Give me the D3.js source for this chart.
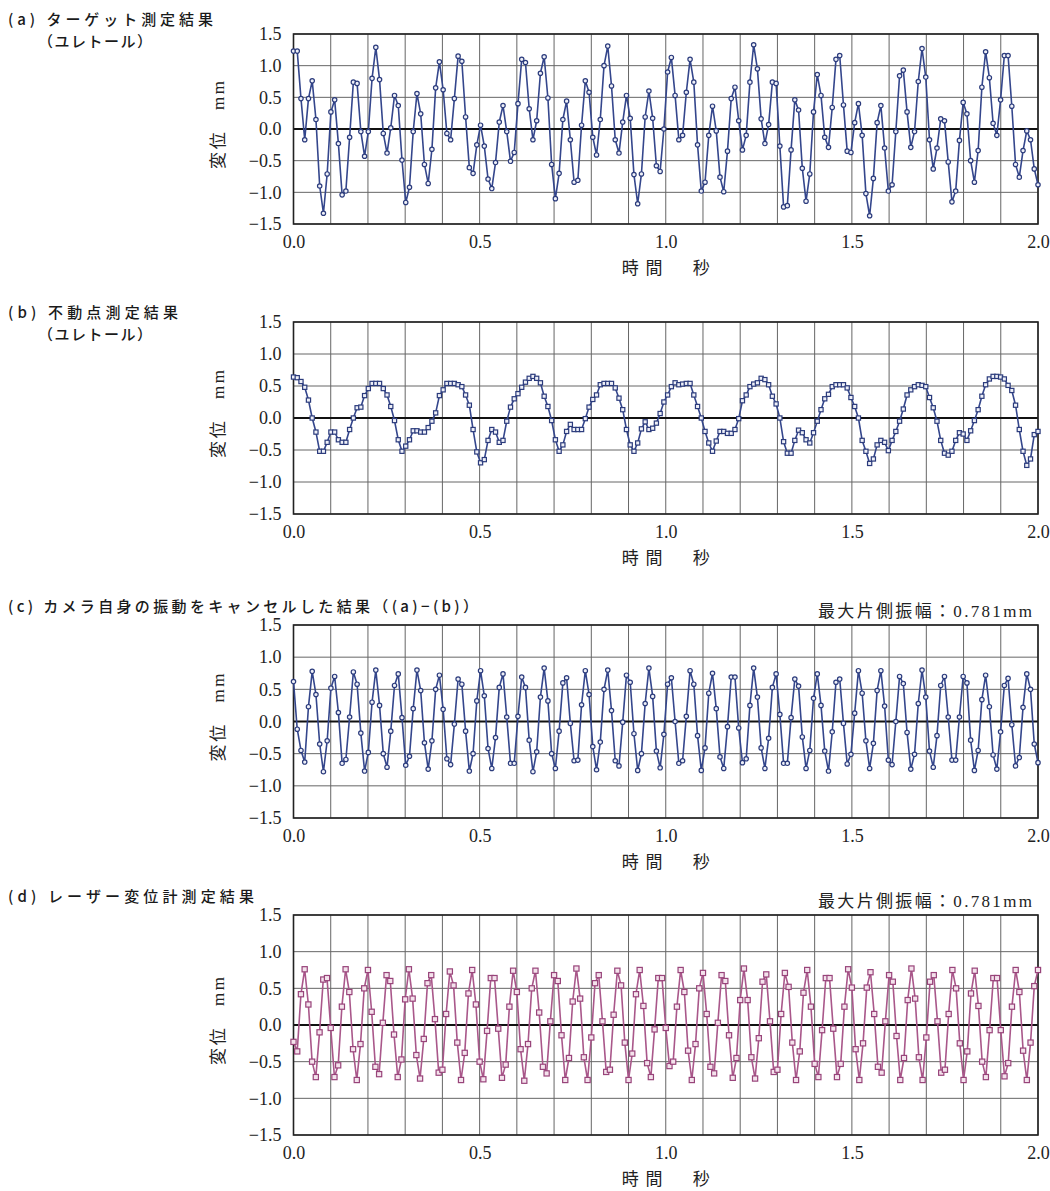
<!DOCTYPE html>
<html><head><meta charset="utf-8">
<script src="https://cdn.jsdelivr.net/npm/d3@7"></script>
<style>body{margin:0;background:#fff}</style>
</head><body><svg id="chart" width="1050" height="1191"></svg>
<script>
// ---------- data ----------
const timeSpan = [0.0, 2.0];          // seconds
const yTickValues = [1.5, 1.0, 0.5, 0.0, -0.5, -1.0, -1.5];
const xTickValues = [0.0, 0.5, 1.0, 1.5, 2.0];
const xTitle = "時間　秒";
const yTitle = "変位　mm";
const ampNote = "最大片側振幅：0.781mm";

const titlesA = ["(a) ターゲット測定結果", "（ユレトール）"];
const titlesB = ["(b) 不動点測定結果", "（ユレトール）"];
const titlesC = ["(c) カメラ自身の振動をキャンセルした結果（(a)−(b)）"];
const titlesD = ["(d) レーザー変位計測定結果"];

// (a) target measurement (mm), equally spaced samples over 0–2.0 s
const seriesA = [
1.23,1.23,0.48,-0.17,0.48,0.76,0.15,-0.9,-1.33,-0.71,
0.27,0.46,-0.23,-1.04,-0.98,-0.13,0.74,0.72,-0.04,-0.43,
-0.04,0.8,1.29,0.78,-0.07,-0.38,0.02,0.53,0.37,-0.49,
-1.16,-0.92,-0.04,0.56,0.24,-0.56,-0.86,-0.32,0.65,1.06,
0.62,-0.07,-0.17,0.48,1.15,1.07,0.19,-0.61,-0.7,-0.25,
0.06,-0.27,-0.79,-0.94,-0.53,0.11,0.37,-0.04,-0.51,-0.37,
0.4,1.1,1.05,0.32,-0.17,0.13,0.88,1.14,0.49,-0.56,
-1.1,-0.7,0.15,0.44,-0.17,-0.84,-0.81,0.06,0.76,0.58,
-0.13,-0.41,0.15,1.0,1.31,0.68,-0.17,-0.38,0.11,0.53,
0.17,-0.72,-1.18,-0.71,0.19,0.6,0.17,-0.58,-0.67,0.0,
0.9,1.13,0.53,-0.17,-0.1,0.58,1.1,0.74,-0.25,-0.98,
-0.84,-0.1,0.36,-0.03,-0.76,-0.99,-0.35,0.48,0.66,0.13,
-0.33,-0.1,0.74,1.33,0.95,0.16,-0.23,0.07,0.74,0.72,
-0.27,-1.23,-1.21,-0.33,0.46,0.3,-0.62,-1.14,-0.71,0.27,
0.86,0.53,-0.13,-0.29,0.34,1.1,1.16,0.38,-0.35,-0.37,
0.1,0.4,-0.1,-1.02,-1.37,-0.78,0.1,0.37,-0.3,-0.98,
-0.88,-0.04,0.84,0.93,0.27,-0.29,-0.04,0.75,1.27,0.82,
-0.17,-0.63,-0.3,0.16,0.13,-0.52,-1.15,-0.98,-0.18,0.42,
0.24,-0.5,-0.84,-0.34,0.66,1.22,0.81,0.09,-0.1,0.46,
1.16,1.16,0.36,-0.56,-0.76,-0.34,-0.03,-0.17,-0.63,-0.88];

// (b) fixed point measurement (mm)
const seriesB = [
0.64,0.63,0.57,0.48,0.28,0.0,-0.22,-0.52,-0.52,-0.38,
-0.22,-0.22,-0.34,-0.38,-0.38,-0.18,0,0.16,0.17,0.35,
0.46,0.54,0.54,0.54,0.46,0.36,0.18,-0.04,-0.34,-0.52,
-0.44,-0.34,-0.2,-0.2,-0.22,-0.22,-0.15,-0.05,0.08,0.35,
0.44,0.54,0.54,0.54,0.52,0.49,0.36,0.2,-0.18,-0.53,
-0.7,-0.65,-0.35,-0.18,-0.22,-0.38,-0.35,-0.05,0.17,0.3,
0.38,0.48,0.56,0.62,0.65,0.62,0.55,0.34,0.18,-0.04,
-0.34,-0.52,-0.42,-0.21,-0.1,-0.18,-0.18,-0.18,-0.01,0.17,
0.29,0.36,0.52,0.54,0.54,0.54,0.47,0.31,0.13,-0.18,
-0.42,-0.52,-0.39,-0.17,-0.06,-0.18,-0.16,-0.08,0.07,0.25,
0.36,0.49,0.55,0.52,0.53,0.54,0.54,0.36,0.18,0,
-0.21,-0.39,-0.52,-0.36,-0.21,-0.21,-0.24,-0.24,-0.18,-0.01,
0.27,0.36,0.49,0.53,0.55,0.62,0.6,0.52,0.34,0.22,
0,-0.37,-0.55,-0.55,-0.35,-0.19,-0.23,-0.34,-0.39,-0.23,
-0.05,0.13,0.3,0.37,0.49,0.52,0.52,0.52,0.47,0.32,
0.18,0,-0.35,-0.52,-0.71,-0.64,-0.42,-0.35,-0.38,-0.51,
-0.35,-0.21,-0.05,0.14,0.36,0.44,0.49,0.52,0.51,0.49,
0.32,0.16,-0.05,-0.35,-0.55,-0.58,-0.52,-0.35,-0.23,-0.25,
-0.35,-0.2,-0.04,0.13,0.34,0.52,0.61,0.65,0.65,0.64,
0.61,0.51,0.43,0.2,-0.18,-0.52,-0.74,-0.64,-0.26,-0.21];

// (c) camera vibration cancelled (mm)
const seriesC = [
0.62,-0.12,-0.45,-0.63,0.23,0.78,0.42,-0.35,-0.78,-0.3,
0.52,0.7,0.14,-0.65,-0.59,0.07,0.77,0.58,-0.18,-0.77,
-0.48,0.3,0.8,0.25,-0.5,-0.71,-0.15,0.56,0.74,0.06,
-0.68,-0.54,0.2,0.8,0.48,-0.33,-0.74,-0.3,0.5,0.72,
0.19,-0.58,-0.67,-0.04,0.66,0.58,-0.15,-0.77,-0.5,0.32,
0.79,0.4,-0.42,-0.73,-0.25,0.53,0.74,0.07,-0.65,-0.65,
0.08,0.69,0.53,-0.29,-0.78,-0.47,0.38,0.83,0.32,-0.5,
-0.73,-0.15,0.6,0.68,-0.03,-0.61,-0.6,0.26,0.79,0.42,
-0.39,-0.75,-0.32,0.5,0.8,0.17,-0.61,-0.69,-0.01,0.72,
0.61,-0.19,-0.76,-0.5,0.28,0.83,0.39,-0.46,-0.72,-0.2,
0.58,0.68,0,-0.65,-0.61,0.08,0.79,0.58,-0.22,-0.76,
-0.41,0.44,0.75,0.2,-0.55,-0.73,-0.08,0.69,0.69,-0.1,
-0.64,-0.58,0.25,0.83,0.38,-0.41,-0.73,-0.26,0.53,0.74,
0.11,-0.65,-0.65,0.06,0.66,0.55,-0.24,-0.73,-0.45,0.36,
0.74,0.25,-0.46,-0.77,-0.16,0.61,0.66,-0.03,-0.66,-0.51,
0.13,0.79,0.44,-0.3,-0.73,-0.34,0.48,0.79,0.24,-0.6,
-0.67,0,0.7,0.59,-0.17,-0.74,-0.51,0.28,0.8,0.38,
-0.46,-0.71,-0.22,0.56,0.7,0.07,-0.6,-0.6,0.07,0.7,
0.6,-0.29,-0.76,-0.45,0.34,0.72,0.23,-0.52,-0.74,-0.16,
0.56,0.67,-0.05,-0.69,-0.56,0.22,0.74,0.5,-0.35,-0.64];

// (d) laser displacement meter (mm)
const seriesD = [
-0.23,-0.36,0.42,0.76,0.28,-0.5,-0.71,-0.1,0.62,0.64,
-0.04,-0.71,-0.55,0.25,0.76,0.45,-0.33,-0.75,-0.26,0.5,
0.75,0.18,-0.57,-0.67,0.03,0.68,0.6,-0.13,-0.71,-0.47,
0.35,0.76,0.36,-0.41,-0.73,-0.19,0.57,0.68,0.08,-0.65,
-0.61,0.15,0.73,0.54,-0.24,-0.75,-0.38,0.43,0.75,0.28,
-0.5,-0.74,-0.08,0.64,0.64,-0.05,-0.72,-0.54,0.25,0.74,
0.45,-0.33,-0.76,-0.26,0.5,0.74,0.17,-0.57,-0.66,0.05,
0.68,0.6,-0.14,-0.75,-0.45,0.32,0.77,0.36,-0.44,-0.75,
-0.17,0.57,0.68,0.05,-0.64,-0.61,0.14,0.74,0.54,-0.24,
-0.75,-0.39,0.42,0.75,0.26,-0.52,-0.71,-0.06,0.64,0.64,
-0.04,-0.56,-0.5,0.25,0.75,0.45,-0.35,-0.75,-0.26,0.5,
0.71,0.15,-0.57,-0.66,0.03,0.68,0.6,-0.14,-0.72,-0.45,
0.34,0.77,0.34,-0.44,-0.73,-0.18,0.59,0.69,0.05,-0.64,
-0.61,0.15,0.71,0.52,-0.24,-0.75,-0.36,0.44,0.75,0.25,
-0.53,-0.71,-0.07,0.64,0.64,-0.05,-0.71,-0.53,0.25,0.76,
0.51,-0.33,-0.75,-0.25,0.51,0.72,0.15,-0.57,-0.65,0.05,
0.68,0.59,-0.15,-0.75,-0.45,0.34,0.77,0.36,-0.44,-0.75,
-0.17,0.59,0.68,0.05,-0.65,-0.61,0.15,0.75,0.5,-0.25,
-0.75,-0.36,0.43,0.74,0.26,-0.5,-0.71,-0.07,0.64,0.64,
-0.07,-0.7,-0.52,0.25,0.75,0.45,-0.35,-0.75,-0.24,0.53,
0.75];

// ---------- layout / style ----------
const NAVY = "#34468c", NAVY_MK = "#2b3b7c";
const MAUVE = "#a9578a", MAUVE_MK = "#98447a";
const plotLeft = 293.5, plotRight = 1038;

const panels = [
  {series: seriesA, titles: titlesA, titleLens: [205, 114], top: 34, bottom: 224, titleY: 18, marker: "circle", color: NAVY, mk: NAVY_MK, note: false},
  {series: seriesB, titles: titlesB, titleLens: [170, 114], top: 322, bottom: 514, titleY: 311, marker: "square", color: NAVY, mk: NAVY_MK, mkSize: 4.2, note: false},
  {series: seriesC, titles: titlesC, titleLens: [470], top: 625, bottom: 818, titleY: 605, marker: "circle", color: NAVY, mk: NAVY_MK, note: true, noteY: 611},
  {series: seriesD, titles: titlesD, titleLens: [246], top: 915, bottom: 1135, titleY: 895, marker: "square", color: MAUVE, mk: MAUVE_MK, mkSize: 5.2, note: true, noteY: 901}
];

const svg = d3.select("#chart");
const serif = "'Liberation Serif','DejaVu Serif','Noto Sans CJK JP',serif";
const sans = "'Noto Sans CJK JP','Noto Sans',sans-serif";
const fmt = d3.format(".1f");

panels.forEach(p => {
  const g = svg.append("g");
  const x = d3.scaleLinear().domain(timeSpan).range([plotLeft, plotRight]);
  const y = d3.scaleLinear().domain([-1.5, 1.5]).range([p.bottom, p.top]);
  const n = p.series.length;
  const dt = (timeSpan[1] - timeSpan[0]) / (n - 1);
  const pts = p.series.map((v, i) => ({t: timeSpan[0] + i * dt, v}));

  // titles
  p.titles.forEach((t, i) => {
    g.append("text")
      .attr("x", i === 0 ? 8 : 38)
      .attr("y", p.titleY + i * 22.5)
      .attr("dominant-baseline", "central")
      .attr("font-family", sans).attr("font-size", 15).attr("font-weight", 500)
      .attr("fill", "#1a1a1a")
      .attr("textLength", p.titleLens[i]).attr("lengthAdjust", "spacing")
      .text(t);
  });

  // grid
  g.append("g").selectAll("line").data(x.ticks(20)).join("line")
    .attr("x1", d => x(d)).attr("x2", d => x(d))
    .attr("y1", p.top).attr("y2", p.bottom)
    .attr("stroke", "#666").attr("stroke-width", 1);
  g.append("g").selectAll("line").data(yTickValues).join("line")
    .attr("x1", plotLeft).attr("x2", plotRight)
    .attr("y1", d => y(d)).attr("y2", d => y(d))
    .attr("stroke", "#666").attr("stroke-width", 1);
  // zero line
  g.append("line").attr("x1", plotLeft).attr("x2", plotRight)
    .attr("y1", y(0)).attr("y2", y(0))
    .attr("stroke", "#111").attr("stroke-width", 2);
  // border
  g.append("rect").attr("x", plotLeft).attr("y", p.top)
    .attr("width", plotRight - plotLeft).attr("height", p.bottom - p.top)
    .attr("fill", "none").attr("stroke", "#222").attr("stroke-width", 1.6);

  // axes labels via d3 axes
  const ya = g.append("g").attr("transform", `translate(${plotLeft},0)`)
    .call(d3.axisLeft(y).tickValues(yTickValues).tickFormat(fmt).tickSize(0).tickPadding(12));
  ya.select(".domain").remove();
  ya.selectAll("text").attr("font-family", serif).attr("font-size", 18).attr("fill", "#222");
  const xa = g.append("g").attr("transform", `translate(0,${p.bottom})`)
    .call(d3.axisBottom(x).tickValues(xTickValues).tickFormat(fmt).tickSize(0).tickPadding(11));
  xa.select(".domain").remove();
  xa.selectAll("text").attr("font-family", serif).attr("font-size", 18).attr("fill", "#222");

  // axis titles
  g.append("text")
    .attr("transform", `translate(218,${(p.top + p.bottom) / 2 - 4}) rotate(-90)`)
    .attr("text-anchor", "middle").attr("dominant-baseline", "central")
    .attr("font-family", serif).attr("font-size", 17).attr("fill", "#222")
    .attr("textLength", 88).attr("lengthAdjust", "spacing")
    .text(yTitle);
  g.append("text")
    .attr("x", (plotLeft + plotRight) / 2).attr("y", p.bottom + 44)
    .attr("text-anchor", "middle").attr("dominant-baseline", "central")
    .attr("font-family", serif).attr("font-size", 17).attr("fill", "#222")
    .attr("textLength", 88).attr("lengthAdjust", "spacing")
    .text(xTitle);

  if (p.note) {
    g.append("text")
      .attr("x", 818).attr("y", p.noteY)
      .attr("dominant-baseline", "central")
      .attr("font-family", serif).attr("font-size", 17).attr("fill", "#222")
      .attr("textLength", 214).attr("lengthAdjust", "spacing")
      .text(ampNote);
  }

  // series line
  const line = d3.line().x(d => x(d.t)).y(d => y(d.v));
  g.append("path").datum(pts).attr("d", line)
    .attr("fill", "none").attr("stroke", p.color).attr("stroke-width", 1.6)
    .attr("stroke-linejoin", "round");

  // markers
  if (p.marker === "circle") {
    g.append("g").selectAll("circle").data(pts).join("circle")
      .attr("cx", d => x(d.t)).attr("cy", d => y(d.v)).attr("r", 2.2)
      .attr("fill", "#eef0f8").attr("stroke", p.mk).attr("stroke-width", 1.2);
  } else {
    const s = p.mkSize;
    g.append("g").selectAll("rect").data(pts).join("rect")
      .attr("x", d => x(d.t) - s / 2).attr("y", d => y(d.v) - s / 2)
      .attr("width", s).attr("height", s)
      .attr("fill", p.color === MAUVE ? "#f4e2ec" : "#eef0f8")
      .attr("stroke", p.mk).attr("stroke-width", 1.2);
  }
});
</script></body></html>
